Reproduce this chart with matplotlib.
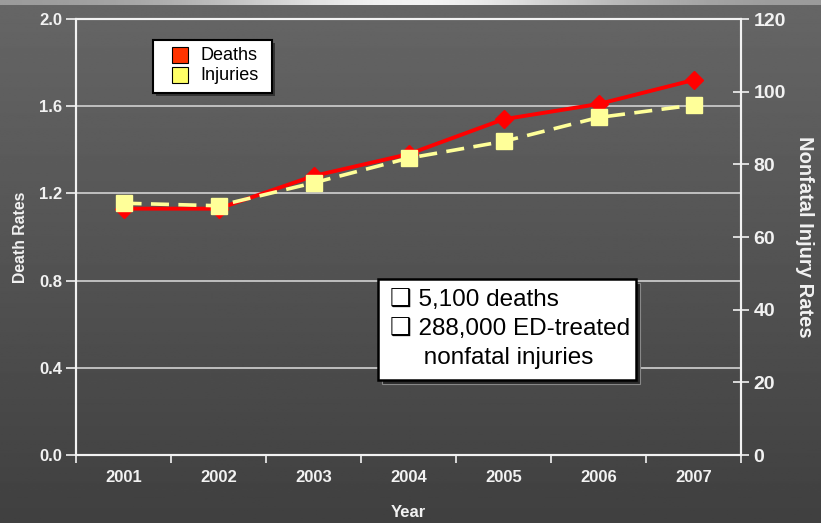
import numpy as np
import matplotlib
matplotlib.use("Agg")
import matplotlib.pyplot as plt
from matplotlib.patches import Rectangle

years = ["2001", "2002", "2003", "2004", "2005", "2006", "2007"]
death_rates = [1.13, 1.13, 1.28, 1.38, 1.54, 1.61, 1.72]
injury_rates = [69.3, 68.6, 74.9, 81.7, 86.3, 92.9, 96.3]

plt.rcParams['font.family'] = ['Liberation Sans', 'DejaVu Sans']
fg = '#f2f2f2'

fig = plt.figure(figsize=(8.21, 5.23), dpi=100)

# dark grey gradient background with a light strip along the top
bg = fig.add_axes([0, 0, 1, 1], zorder=-10)
grad = np.linspace(0.40, 0.25, 256).reshape(-1, 1)
bg.imshow(np.repeat(grad, 2, axis=1), cmap='gray', vmin=0, vmax=1,
          aspect='auto', extent=[0, 1, 0, 1])
strip = 0.6 + 0.35 * np.exp(-((np.linspace(-1, 1, 400) / 0.5) ** 2))
bg.imshow(strip.reshape(1, -1), cmap='gray', vmin=0, vmax=1,
          aspect='auto', extent=[0, 1, 1 - 5 / 523, 1])
bg.set_xlim(0, 1)
bg.set_ylim(0, 1)
bg.axis('off')

ax = fig.add_axes([76 / 821, 1 - 455 / 523, 665 / 821, 436 / 523])
ax.patch.set_alpha(0)
ax2 = ax.twinx()

x = np.arange(len(years))
ax.plot(x, death_rates, color='#ff0000', lw=2.8, marker='D', ms=9.5,
        zorder=3, label='Deaths')
ax2.plot(x, injury_rates, color='#ffff99', lw=2.6, ls=(0, (5, 2.6)),
         marker='s', ms=11, zorder=3, label='Injuries')

ax.set_xlim(-0.5, 6.5)
ax.set_ylim(0, 2.0)
ax2.set_ylim(0, 120)
ax.set_yticks([0.0, 0.4, 0.8, 1.2, 1.6, 2.0])
ax.set_yticklabels(['0.0', '0.4', '0.8', '1.2', '1.6', '2.0'])
ax2.set_yticks(range(0, 121, 20))
ax.set_xticks(x)
ax.set_xticklabels(years)
ax.set_xticks(np.arange(-0.5, 7, 1), minor=True)

for yv in [0.4, 0.8, 1.2, 1.6]:
    ax.axhline(yv, color='#c8c8c8', lw=1.3, zorder=1)

for a in (ax, ax2):
    for s in a.spines.values():
        s.set_color(fg)
        s.set_linewidth(1.5)

ax.tick_params(axis='x', which='major', length=0, pad=11, colors=fg,
               labelsize=12)
ax.tick_params(axis='x', which='minor', length=6, width=1.2, color=fg)
ax.tick_params(axis='y', length=7, width=1.2, colors=fg, labelsize=12,
               pad=3)
ax2.tick_params(axis='y', direction='inout', length=12, width=1.2,
                colors=fg, labelsize=14, pad=3)
for lab in ax.get_xticklabels() + ax.get_yticklabels() + ax2.get_yticklabels():
    lab.set_fontweight('bold')

ax.set_xlabel('Year', color=fg, fontsize=12, fontweight='bold', labelpad=14)
ax.set_ylabel('Death Rates', color=fg, fontsize=11.3, fontweight='bold',
              labelpad=8)
ax2.set_ylabel('Nonfatal Injury Rates', color=fg, fontsize=14.5,
               fontweight='bold', rotation=270, labelpad=20)

# legend box
lx0, ly0, lw, lh = 153 / 821, 1 - 93 / 523, 119 / 821, 53 / 523
fig.patches.append(Rectangle((lx0 + 3 / 821, ly0 - 3 / 523), lw, lh,
                             transform=fig.transFigure, facecolor='#333333',
                             edgecolor='none', zorder=5))
fig.patches.append(Rectangle((lx0, ly0), lw, lh, transform=fig.transFigure,
                             facecolor='white', edgecolor='black', lw=1.5,
                             zorder=6))
for i, (name, col) in enumerate([('Deaths', '#ff3300'), ('Injuries', '#ffff66')]):
    yy = 1 - (55 + 20 * i) / 523
    fig.patches.append(Rectangle((172 / 821, yy - 8 / 523), 16 / 821, 16 / 523,
                                 transform=fig.transFigure, facecolor=col,
                                 edgecolor='black', lw=0.8, zorder=7))
    fig.text(200 / 821, yy, name, fontsize=13, va='center', ha='left',
             color='black', zorder=8)

# summary box
bx0, by0, bw, bh = 378 / 821, 1 - 380 / 523, 258 / 821, 101 / 523
fig.patches.append(Rectangle((bx0 + 4 / 821, by0 - 4 / 523), bw, bh,
                             transform=fig.transFigure, facecolor='#2a2a2a',
                             edgecolor='#888888', lw=0.8, zorder=5))
fig.patches.append(Rectangle((bx0, by0), bw, bh, transform=fig.transFigure,
                             facecolor='white', edgecolor='black', lw=1.8,
                             zorder=6))
lines = ['\u2751 5,100 deaths', '\u2751 288,000 ED-treated',
         '     nonfatal injuries']
for i, t in enumerate(lines):
    fig.text(390 / 821, 1 - (300 + 29 * i) / 523, t, fontsize=17.5,
             va='center', ha='left', color='black', zorder=8,
             family=['Liberation Sans', 'DejaVu Sans'])

fig.savefig('out.png', dpi=100)
